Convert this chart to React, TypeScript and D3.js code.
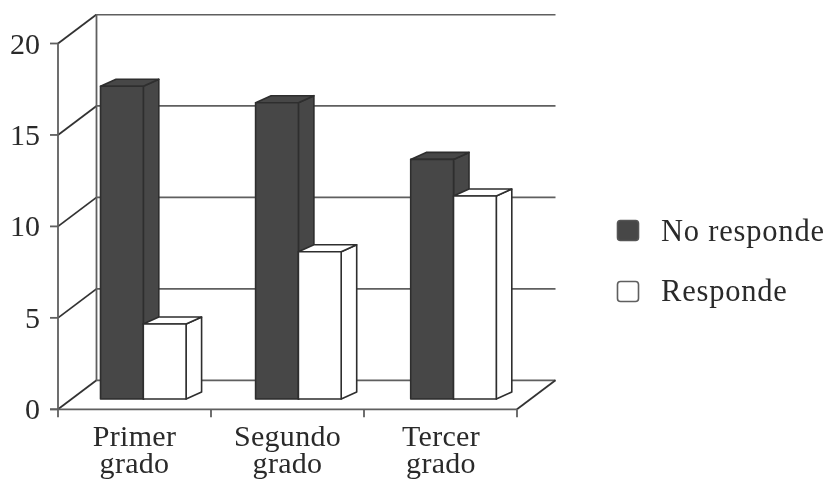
import React from "react";
import * as d3 from "d3";

const categories = [["Primer", "grado"], ["Segundo", "grado"], ["Tercer", "grado"]];
const seriesNames = ["No responde", "Responde"];
const noResponde = [17.1, 16.2, 13.1];
const responde = [4.1, 8.05, 11.1];
const yTicks = [0, 5, 10, 15, 20];

const FONT = "'Liberation Serif', serif";
const DARK = "#474747";
const EDGE = "#2e2e2e";
const LINE = "#5f5f5f";
const TEXT = "#2a2a2a";

const W = 828, H = 479;
const depthX = 38.5, depthY = 29;
const barDX = 15.5, barDY = 7;
const y = d3.scaleLinear().domain([0, 20]).range([409.3, 43.5]);
const xAxis = d3.scaleBand<number>().domain([0, 1, 2]).range([58, 517]).padding(0);
const xBar = d3.scalePoint<number>().domain([0, 1, 2]).range([100.5, 410.7]);
const xSeries = d3.scaleBand<number>().domain([0, 1]).range([0, 85.6]).padding(0);
const barBase = 399;
const unit = y(0) - y(1);

function Bar({ x, w, v, fill }: { x: number; w: number; v: number; fill: string }) {
  const top = barBase - v * unit;
  const path = d3.path();
  const side = d3.path();
  side.moveTo(x + w, top); side.lineTo(x + w + barDX, top - barDY); side.lineTo(x + w + barDX, barBase - barDY); side.lineTo(x + w, barBase); side.closePath();
  path.moveTo(x, top); path.lineTo(x + barDX, top - barDY); path.lineTo(x + w + barDX, top - barDY); path.lineTo(x + w, top); path.closePath();
  return (
    <g stroke={EDGE} strokeWidth={1.6} strokeLinejoin="round">
      <path d={side.toString()} fill={fill} />
      <path d={path.toString()} fill={fill} />
      <rect x={x} y={top} width={w} height={barBase - top} fill={fill} />
    </g>
  );
}

export default function App() {
  const w = xSeries.bandwidth();
  const xEnd = xAxis.range()[1];
  const xStart = xAxis.range()[0];
  const labelX = [134.5, 287.5, 441];
  return (
    <svg width={W} height={H} viewBox={`0 0 ${W} ${H}`} style={{ position: "absolute", left: 0, top: 0, background: "#fff" }}>
      <defs>
        <filter id="soft" x="0" y="0" width="100%" height="100%"><feGaussianBlur stdDeviation="0.4" /></filter>
      </defs>
      <g filter="url(#soft)">
        <g stroke={LINE} strokeWidth={1.8} fill="none">
          {yTicks.map((t) => (
            <g key={t}>
              <line x1={xStart + depthX} x2={xEnd + depthX} y1={y(t) - depthY} y2={y(t) - depthY} />
              <line x1={xStart} x2={xStart + depthX} y1={y(t)} y2={y(t) - depthY} stroke="#333" />
              <line x1={xStart - 8} x2={xStart} y1={y(t)} y2={y(t)} />
            </g>
          ))}
          <line x1={xStart + depthX} x2={xStart + depthX} y1={y(20) - depthY} y2={y(0) - depthY} />
          <line x1={xStart} x2={xStart} y1={y(20)} y2={y(0) + 8} />
          <line x1={xStart - 8} x2={xEnd} y1={y(0)} y2={y(0)} />
          <line x1={xEnd} x2={xEnd + depthX} y1={y(0)} y2={y(0) - depthY} stroke="#333" />
          {categories.map((_, i) => (
            <line key={i} x1={xAxis(i)! + xAxis.bandwidth()} x2={xAxis(i)! + xAxis.bandwidth()} y1={y(0)} y2={y(0) + 8} />
          ))}
        </g>
        {categories.map((_, i) => (
          <g key={i}>
            <Bar x={xBar(i)! + xSeries(0)!} w={w} v={noResponde[i]} fill={DARK} />
            <Bar x={xBar(i)! + xSeries(1)!} w={w} v={responde[i]} fill="#fff" />
          </g>
        ))}
        <g fontFamily={FONT} fontSize={30} fill={TEXT}>
          {yTicks.map((t) => (
            <text key={t} x={40} y={y(t) + 10} textAnchor="end">{t}</text>
          ))}
        </g>
        <g fontFamily={FONT} fontSize={30} letterSpacing={0.3} fill={TEXT} textAnchor="middle">
          {categories.map((c, i) => (
            <text key={i}>
              <tspan x={labelX[i]} y={446}>{c[0]}</tspan>
              <tspan x={labelX[i]} y={473}>{c[1]}</tspan>
            </text>
          ))}
        </g>
        {seriesNames.map((s, i) => (
          <g key={s}>
            <rect x={617.5} y={220.5 + i * 61} width={21} height={20} rx={3} fill={i === 0 ? DARK : "#fff"} stroke={i === 0 ? "#555" : LINE} strokeWidth={1.6} />
            <text x={661} y={240.5 + i * 60.5} fontFamily={FONT} fontSize={30.5} letterSpacing={0.8} fill={TEXT}>{s}</text>
          </g>
        ))}
      </g>
    </svg>
  );
}
